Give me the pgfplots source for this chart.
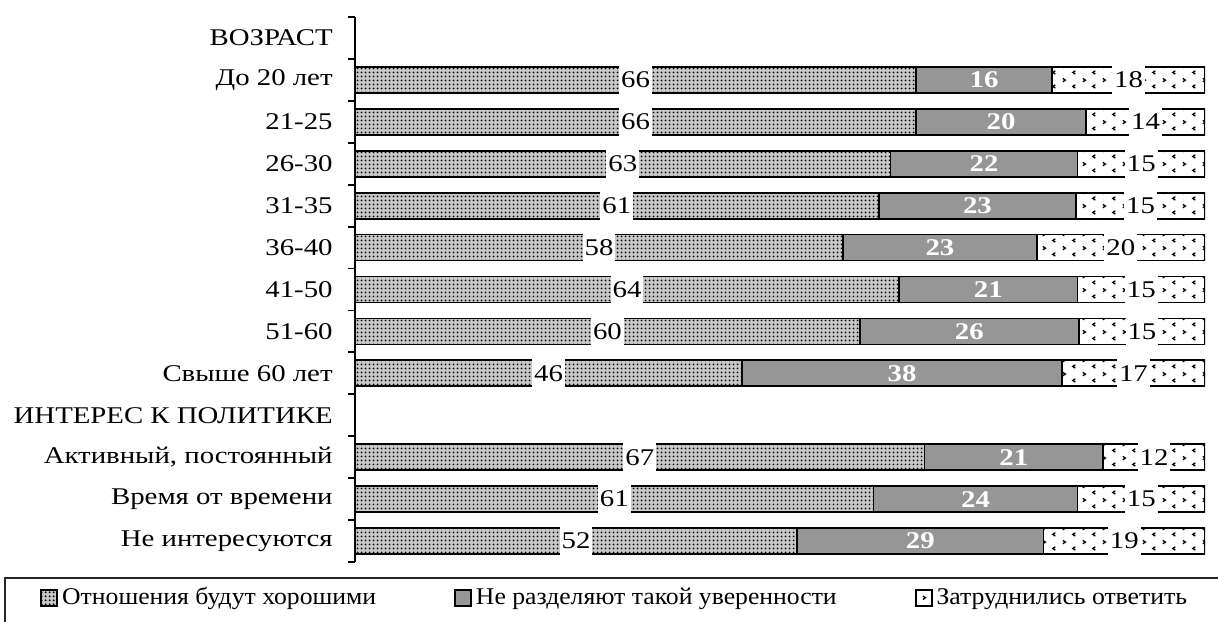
\documentclass[12pt,border=0pt]{standalone}
\usepackage{fontspec}
\setmainfont{Liberation Serif}
\newfontfamily\wideserif[FakeStretch=1.2]{Liberation Serif}
\newfontfamily\legserif[FakeStretch=1.07]{Liberation Serif}
\usepackage{pgfplots}
\usepackage{pgfplotstable}
\pgfplotsset{compat=1.18}
\usetikzlibrary{patterns}

\definecolor{midgray}{RGB}{150,150,150}

% dense dots of the first series
\pgfdeclarepatternformonly{densedots}{\pgfpointorigin}{\pgfqpoint{2pt}{2pt}}{\pgfqpoint{2pt}{2pt}}{%
  \pgfpathcircle{\pgfqpoint{1pt}{1pt}}{0.6pt}\pgfusepath{fill}}
% sparse little marks of the third series
\pgfdeclarepatternformonly{sparsemarks}{\pgfpointorigin}{\pgfqpoint{10pt}{7pt}}{\pgfqpoint{10pt}{7pt}}{%
  \pgfsetlinewidth{0.7pt}%
  \pgfpathmoveto{\pgfqpoint{1.5pt}{6.2pt}}\pgfpathlineto{\pgfqpoint{2.8pt}{5.3pt}}\pgfpathlineto{\pgfqpoint{1.5pt}{4.4pt}}%
  \pgfpathmoveto{\pgfqpoint{8.0pt}{2.8pt}}\pgfpathlineto{\pgfqpoint{6.7pt}{1.9pt}}\pgfpathlineto{\pgfqpoint{8.0pt}{1.0pt}}%
  \pgfusepath{stroke}}

% idx = row from the top, a/b/c = shares in percent
\pgfplotstableread{
idx a  b  c
1   66 16 18
2   66 20 14
3   63 22 15
4   61 23 15
5   58 23 20
6   64 21 15
7   60 26 15
8   46 38 17
10  67 21 12
11  61 24 15
12  52 29 19
}\datatable
% 100% stacking, as in the original chart
\pgfplotstablecreatecol[expr={100*\thisrow{a}/(\thisrow{a}+\thisrow{b}+\thisrow{c})}]{na}\datatable
\pgfplotstablecreatecol[expr={100*\thisrow{b}/(\thisrow{a}+\thisrow{b}+\thisrow{c})}]{nb}\datatable
\pgfplotstablecreatecol[expr={100*\thisrow{c}/(\thisrow{a}+\thisrow{b}+\thisrow{c})}]{nc}\datatable
\pgfplotstablecreatecol[expr={\thisrow{na}/2}]{ca}\datatable
\pgfplotstablecreatecol[expr={\thisrow{na}+\thisrow{nb}/2}]{cb}\datatable
\pgfplotstablecreatecol[expr={\thisrow{na}+\thisrow{nb}+\thisrow{nc}/2}]{cc}\datatable

\begin{document}
\begin{tikzpicture}
\useasboundingbox (-177.5pt,-29.5pt) rectangle (431.5pt,281pt);
% legend frame (runs past the right edge)
\draw[line width=0.9pt, black!85] (-175pt,-45pt) rectangle (445pt,-8pt);

\pgfplotsset{
  common/.style={
    scale only axis,
    width=425pt, height=272.5pt,
    at={(0,0)}, anchor=south west,
    xmin=0, xmax=100,
    ymin=-0.5, ymax=12.5,
    y dir=reverse,
  }
}

\begin{axis}[
    common,
    xbar stacked,
    bar width=13pt,
    hide x axis,
    axis y line*=left,
    y axis line style={line width=0.9pt},
    ytick={0,...,12},
    yticklabels={ВОЗРАСТ, До 20 лет, 21-25, 26-30, 31-35, 36-40, 41-50, 51-60, Свыше 60 лет, ИНТЕРЕС К ПОЛИТИКЕ, {Активный, постоянный}, Время от времени, Не интересуются},
    major tick length=0pt,
    minor ytick={-0.5,0.5,...,12.5},
    minor tick length=3.5pt,
    tick align=outside,
    minor tick style={line width=0.9pt, black},
    yticklabel style={font=\fontsize{12}{14}\wideserif, xshift=-7pt},
    legend columns=3,
    legend cell align=left,
    legend style={
      at={(-0.3706,-0.066)}, anchor=west,
      draw=none, fill=none, inner sep=0pt,
      font=\fontsize{12}{14}\legserif,
      /tikz/every even column/.append style={column sep=37pt},
    },
    legend image code/.code={\draw[#1, line width=0.9pt] (0pt,-4pt) rectangle (8pt,4pt);},
  ]
  \addplot[draw=black, line width=0.9pt, fill=black!22, postaction={pattern=densedots, pattern color=black}]
    table[x=na, y=idx] {\datatable};
  \addplot[draw=black, line width=0.9pt, fill=midgray]
    table[x=nb, y=idx] {\datatable};
  \addplot[draw=black, line width=0.9pt, pattern=sparsemarks, pattern color=black]
    table[x=nc, y=idx] {\datatable};
  \legend{Отношения будут хорошими, Не разделяют такой уверенности, Затруднились ответить}
\end{axis}

% value labels, centred in their segments
\begin{axis}[common, hide axis]
  \addplot[draw=none, nodes near coords={\pgfplotspointmeta}, point meta=explicit symbolic,
    nodes near coords align=center,
    every node near coord/.style={fill=white, inner xsep=1pt, minimum height=15pt,
      font=\fontsize{12}{14}\wideserif}]
    table[x=ca, y=idx, meta=a] {\datatable};
  \addplot[draw=none, nodes near coords={\pgfplotspointmeta}, point meta=explicit symbolic,
    nodes near coords align=center,
    every node near coord/.style={text=white, font=\fontsize{12}{14}\wideserif\bfseries}]
    table[x=cb, y=idx, meta=b] {\datatable};
  \addplot[draw=none, nodes near coords={\pgfplotspointmeta}, point meta=explicit symbolic,
    nodes near coords align=center,
    every node near coord/.style={fill=white, inner xsep=1pt, minimum height=15pt,
      font=\fontsize{12}{14}\wideserif}]
    table[x=cc, y=idx, meta=c] {\datatable};
\end{axis}
\end{tikzpicture}
\end{document}
